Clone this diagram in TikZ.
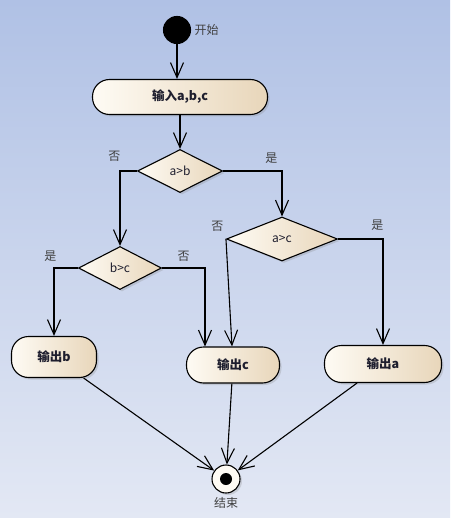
\documentclass[tikz,border=0pt]{standalone}
\usepackage{fontspec}
\setmainfont{Noto Sans CJK SC}
\usetikzlibrary{shapes.geometric,arrows.meta,shadows}
\definecolor{bgtop}{HTML}{B0C1E5}
\definecolor{bgbot}{HTML}{E3E8F4}
\definecolor{actl}{HTML}{FEFBF4}
\definecolor{actr}{HTML}{E8D6BA}
\definecolor{txt}{HTML}{1E1E2E}
\begin{document}
\begin{tikzpicture}[x=1pt,y=-1pt,line width=1.1pt,
    >={Straight Barb[length=15pt,width=13pt]},
    shade/.style={left color=actl,right color=actr,drop shadow={opacity=0.25,shadow xshift=2pt,shadow yshift=-2pt}},
    act/.style={draw,rectangle,rounded corners=17pt,shade,text=txt,font=\bfseries\fontsize{12.5}{14}\selectfont},
    cond/.style={draw,diamond,inner sep=0pt,shade,text=txt,font=\fontsize{12}{14}\selectfont},
    lbl/.style={inner sep=1pt,text=black!75,font=\fontsize{12}{14}\selectfont}]
  \fill[top color=bgtop,bottom color=bgbot] (0,0) rectangle (450,518);
  \node[circle,draw,fill=black,minimum size=27pt,inner sep=0pt,label={[lbl,xshift=2pt]right:开始}] (start) at (177,30) {};
  \node[act,minimum width=175pt,minimum height=35pt,below of=start,node distance=67pt,xshift=3pt] (input) {输入a,b,c};
  \node[cond,minimum width=85pt,minimum height=43pt,below of=input,node distance=74pt] (ab) {a>b};
  \node[cond,minimum width=83pt,minimum height=43pt,below of=ab,node distance=97pt,xshift=-60pt] (bc) {b>c};
  \node[cond,minimum width=111pt,minimum height=44pt,below of=ab,node distance=68pt,xshift=102pt] (ac) {a>c};
  \node[act,minimum width=85pt,minimum height=41pt,below of=bc,node distance=89pt,xshift=-66pt] (outb) {输出b};
  \node[act,minimum width=93pt,minimum height=36pt,below of=ac,node distance=126pt,xshift=-49pt] (outc) {输出c};
  \node[act,minimum width=117pt,minimum height=37pt,below of=ac,node distance=125pt,xshift=101pt] (outa) {输出a};
  \node[circle,draw,fill=actl,minimum size=28pt,inner sep=0pt,drop shadow={opacity=0.25,shadow xshift=2pt,shadow yshift=-2pt},
    label={[lbl,yshift=-2pt]below:结束},below of=outc,node distance=114pt,xshift=-7pt] (end) {};
  \node[circle,fill=black,minimum size=12pt,inner sep=0pt] (enddot) at (end) {};

  \draw[->] (start) -- (start |- input.north);
  \draw[->] (input) -- (ab);
  \draw[->] (ab.west) -| node[lbl,pos=0.5,above left,xshift=2pt,yshift=8pt] {否} (bc.north);
  \draw[->] (ab.east) -| node[lbl,pos=0.5,above left,xshift=-3pt,yshift=6pt] {是} (ac.north);
  \draw[->] (bc.west) -| node[lbl,pos=0.5,above left,xshift=4pt,yshift=5pt] {是} (outb.north);
  \draw[->] (bc.east) -| node[lbl,pos=0.25,above,yshift=5pt] {否} ([xshift=-28pt]outc.north);
  \draw[->] (ac.west) -- node[lbl,pos=0,above left,xshift=-1pt,yshift=6pt] {否} ([xshift=-1pt]outc.north);
  \draw[->] (ac.east) -| node[lbl,pos=0.5,above left,xshift=2pt,yshift=7pt] {是} (outa.north);
  \draw[->] (outb) -- (end);
  \draw[->] (outc) -- (end);
  \draw[->] (outa) -- (end);
\end{tikzpicture}
\end{document}
